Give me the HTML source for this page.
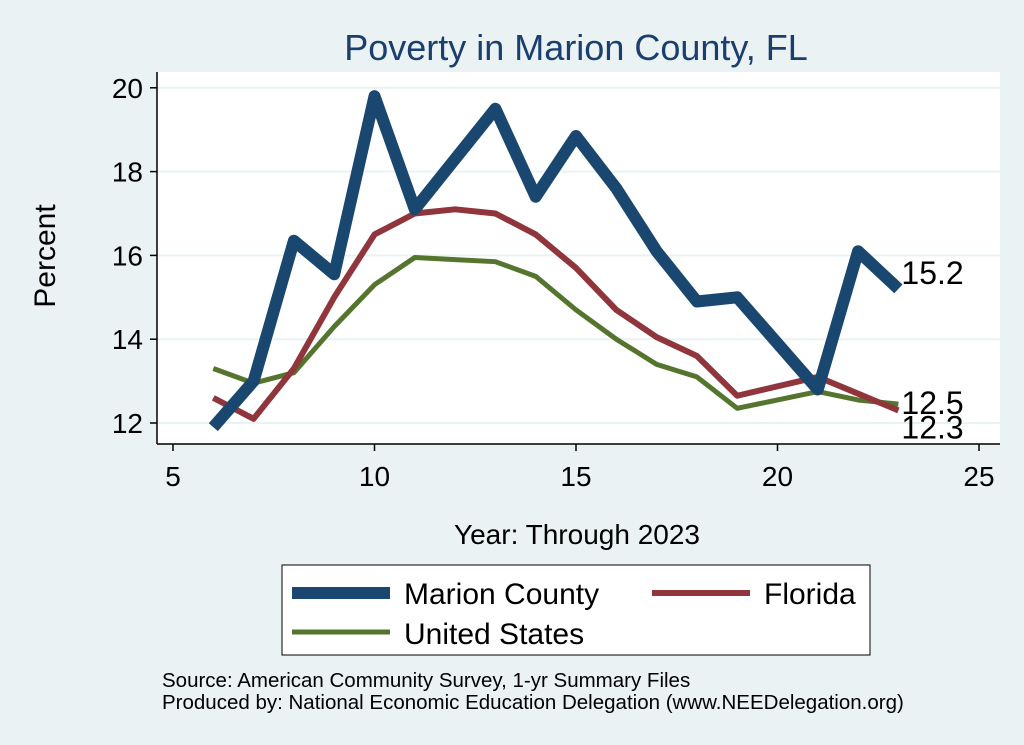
<!DOCTYPE html>
<html><head><meta charset="utf-8"><style>
body{margin:0;background:#eaf2f3;}
svg{display:block;font-family:"Liberation Sans",sans-serif;}
</style></head><body>
<svg width="1024" height="745" viewBox="0 0 1024 745">
<rect x="0" y="0" width="1024" height="745" fill="#eaf2f3"/>
<text x="576" y="60" font-size="36" fill="#1a3e6e" text-anchor="middle">Poverty in Marion County, FL</text>
<rect x="157" y="72" width="843" height="372" fill="#fff"/>
<g id="grid"></g>
<g id="series"></g>
<line x1="157" y1="72" x2="157" y2="444" stroke="#000" stroke-width="1.5"/>
<line x1="157" y1="444" x2="1000" y2="444" stroke="#000" stroke-width="1.5"/>
<g id="ticks"></g>
<text x="55" y="256" font-size="30" text-anchor="middle" transform="rotate(-90 55 256)">Percent</text>
<text x="577" y="544" font-size="28" text-anchor="middle">Year: Through 2023</text>
<g>
<rect x="282" y="565" width="588" height="90" fill="#fff" stroke="#000" stroke-width="1"/>
<line x1="292" y1="593" x2="390" y2="593" stroke="#1a476f" stroke-width="12"/>
<text x="404" y="604" font-size="30">Marion County</text>
<line x1="652" y1="593" x2="750" y2="593" stroke="#90353b" stroke-width="6"/>
<text x="764" y="604" font-size="30">Florida</text>
<line x1="292" y1="632" x2="390" y2="632" stroke="#55752f" stroke-width="5"/>
<text x="404" y="644" font-size="30">United States</text>
</g>
<text x="162" y="687" font-size="20.5">Source: American Community Survey, 1-yr Summary Files</text>
<text x="162" y="709" font-size="20.5">Produced by: National Economic Education Delegation (www.NEEDelegation.org)</text>
</svg>
<script>
const years=[6,7,8,9,10,11,12,13,14,15,16,17,18,19,21,22,23];
const marion=[11.9,13.0,16.35,15.55,19.8,17.1,18.3,19.5,17.4,18.85,17.6,16.1,14.9,15.0,12.8,16.1,15.2];
const florida=[12.6,12.1,13.3,15.0,16.5,17.0,17.1,17.0,16.5,15.7,14.7,14.05,13.6,12.65,13.1,12.7,12.3];
const us=[13.3,12.95,13.2,14.3,15.3,15.95,15.9,15.85,15.5,14.7,14.0,13.4,13.1,12.35,12.75,12.55,12.45];
const xTicks=[5,10,15,20,25];
const yTicks=[12,14,16,18,20];
const NS='http://www.w3.org/2000/svg';
const X=v=>173+(v-5)*40.3;
const Y=v=>423-(v-12)*41.9;
const grid=document.getElementById('grid'),ticks=document.getElementById('ticks'),ser=document.getElementById('series');
function mk(tag,attrs,parent){const e=document.createElementNS(NS,tag);for(const k in attrs)e.setAttribute(k,attrs[k]);parent.appendChild(e);return e;}
yTicks.forEach(t=>{
 const g=mk('line',{x1:157,x2:1000,y1:Y(t),y2:Y(t),stroke:'#eaf2f3','stroke-width':2},grid);
 
 
 const tk=mk('line',{x1:150,x2:157,y1:Y(t),y2:Y(t),stroke:'#000','stroke-width':1.5},ticks);
 
 
 const tx=mk('text',{x:143,y:Y(t)+10,'font-size':28,'text-anchor':'end'},ticks);tx.textContent=t;
 
 
});
xTicks.forEach(t=>{
 const tk=mk('line',{x1:X(t),x2:X(t),y1:444,y2:451,stroke:'#000','stroke-width':1.5},ticks);
 
 
 const tx=mk('text',{x:X(t),y:486,'font-size':28,'text-anchor':'middle'},ticks);tx.textContent=t;
 
 
});
function line(vals,color,w,name){
 const p=mk('polyline',{points:years.map((y,i)=>X(y)+','+Y(vals[i])).join(' '),fill:'none',stroke:color,'stroke-width':w,'stroke-linejoin':'round'},ser);
 
 
}
line(us,'#55752f',5,'us-line');
line(florida,'#90353b',6,'florida-line');
line(marion,'#1a476f',12,'marion-line');
const last=years.length-1;
[[marion,'15.2',-16],[us,'12.5',-1],[florida,'12.3',17]].forEach(([v,lab,dy])=>{
 const t=mk('text',{x:X(years[last])+3,y:Y(v[last])+11+dy,'font-size':32},ser);t.textContent=lab;
 
 
});
</script>
</body></html>
